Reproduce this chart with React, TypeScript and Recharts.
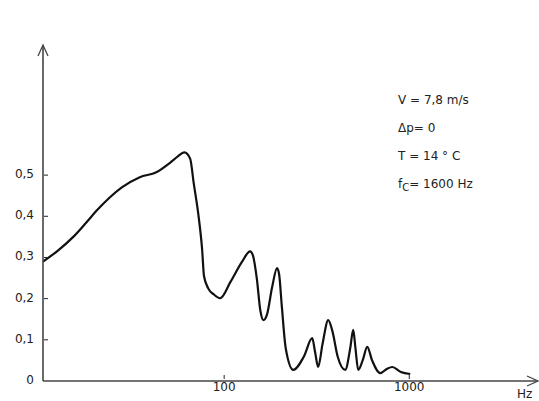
import React from 'react';
import { LineChart, Line, XAxis, YAxis } from 'recharts';

// frequency (Hz) and value
const freqs = [
  10.5, 12.5, 15.3, 18, 20.6, 24, 28, 35, 43, 51, 56, 61, 65.5, 68.5, 72.5,
  76, 77.8, 82, 88, 95, 108, 125, 138, 143, 150, 157, 163, 170, 182, 193, 198,
  205, 215, 236, 270, 299, 310, 322, 340, 365, 385, 410, 451, 480, 498, 512,
  530, 560, 593, 630, 697, 760, 809, 900, 1012,
];
const values = [
  0.29, 0.315, 0.35, 0.385, 0.415, 0.445, 0.47, 0.495, 0.507, 0.53, 0.545,
  0.555, 0.54, 0.48, 0.405, 0.32, 0.255, 0.225, 0.21, 0.201, 0.24, 0.29, 0.315,
  0.305, 0.25, 0.17, 0.148, 0.16, 0.23, 0.274, 0.26, 0.18, 0.08, 0.027, 0.06,
  0.104, 0.07, 0.034, 0.09, 0.148, 0.12, 0.06, 0.027, 0.08, 0.124, 0.08, 0.027,
  0.05, 0.083, 0.05, 0.019, 0.03, 0.034, 0.022, 0.017,
];
const xTicks = [100, 1000];
const yTicks = [0, 0.1, 0.2, 0.3, 0.4, 0.5];
const notes = ['V = 7,8 m/s', 'Δp= 0', 'T = 14 ° C'];

const data = freqs.map((f, i) => ({ f, v: values[i] }));

const FONT = '"DejaVu Sans", sans-serif';
const INK = '#222';

const XTick = (props: any) => {
  const { x, y, payload } = props;
  return (
    <g>
      <line x1={x} x2={x} y1={y - 2} y2={y - 6} stroke={INK} strokeWidth={1} />
      <text x={x} y={y + 10} textAnchor="middle" fontSize={12} fontFamily={FONT} fill={INK}>
        {payload.value}
      </text>
    </g>
  );
};

const YTick = (props: any) => {
  const { x, y, payload } = props;
  const label = payload.value === 0 ? '0' : payload.value.toFixed(1).replace('.', ',');
  return (
    <g>
      {payload.value !== 0 && (
        <line x1={x + 1} x2={x + 5} y1={y} y2={y} stroke={INK} strokeWidth={1} />
      )}
      <text x={x - 9} y={y + 3} textAnchor="end" fontSize={12} fontFamily={FONT} fill={INK}>
        {label}
      </text>
    </g>
  );
};

export default function App() {
  return (
    <div style={{ position: 'absolute', left: 0, top: 0, width: 539, height: 401, background: '#fff' }}>
      <LineChart
        width={539}
        height={401}
        data={data}
        margin={{ top: 45, right: 2, left: 0, bottom: 0 }}
      >
        <XAxis
          dataKey="f"
          type="number"
          scale="log"
          domain={[10.5, 4900]}
          ticks={xTicks}
          height={20}
          axisLine={{ stroke: '#444', strokeWidth: 1.6 }}
          tickLine={false}
          tickSize={0}
          tickMargin={0}
          tick={<XTick />}
          allowDataOverflow
        />
        <YAxis
          type="number"
          domain={[0, 0.816]}
          ticks={yTicks}
          width={43}
          axisLine={{ stroke: '#444', strokeWidth: 1.6 }}
          tickLine={false}
          tickSize={0}
          tickMargin={0}
          tick={<YTick />}
          allowDataOverflow
        />
        <Line
          dataKey="v"
          type="monotone"
          stroke="#111"
          strokeWidth={2.2}
          dot={false}
          isAnimationActive={false}
        />
      </LineChart>
      <svg
        width={539}
        height={401}
        style={{ position: 'absolute', left: 0, top: 0, pointerEvents: 'none' }}
      >
        <polyline points="38,56 43,45 48,56" fill="none" stroke="#444" strokeWidth={1.3} />
        <polyline points="527,376 538,381 527,386" fill="none" stroke="#444" strokeWidth={1.3} />
        <text x={517} y={398} fontSize={12} fontFamily={FONT} fill={INK}>Hz</text>
        {notes.map((n, i) => (
          <text key={n} x={398} y={104 + i * 28} fontSize={12} fontFamily={FONT} fill={INK}>
            {n}
          </text>
        ))}
        <text x={398} y={188} fontSize={12} fontFamily={FONT} fill={INK}>
          f<tspan fontSize={10} dy={3}>C</tspan>
          <tspan dy={-3}>= 1600 Hz</tspan>
        </text>
      </svg>
    </div>
  );
}
